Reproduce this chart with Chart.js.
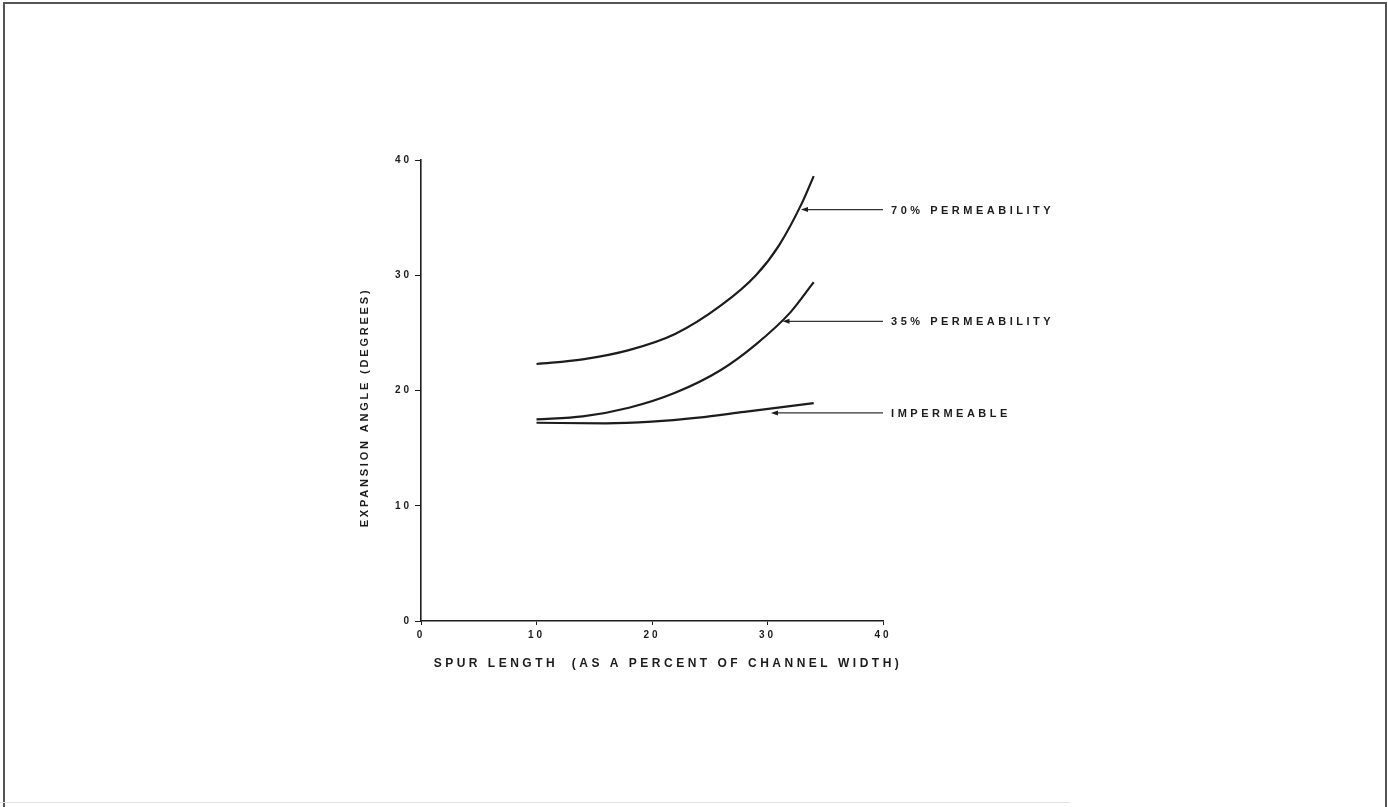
<!DOCTYPE html>
<html>
<head>
<meta charset="utf-8">
<title>Expansion angle vs spur length</title>
<script src="https://cdn.jsdelivr.net/npm/chart.js@4.4.1/dist/chart.umd.min.js"></script>
<style>
  html, body { margin: 0; padding: 0; background: #fff; overflow: hidden; }
  #frame { position: absolute; left: 3px; top: 2px; width: 1380px; height: 820px;
           border-top: 2px solid #555; border-left: 2px solid #555; border-right: 2px solid #555; }
  #foot { position: absolute; left: 0; top: 802px; width: 1070px; height: 1px; background: #e2e2e2; }
  #grafik { position: absolute; left: 0; top: 0; }
</style>
</head>
<body>
<div id="frame"></div>
<div id="foot"></div>
<canvas id="grafik" width="1388" height="807"></canvas>
<script>
// values (x = spur length %, y = expansion angle deg)
var x70 = [10, 14, 18, 22, 26, 29, 31, 33, 34];
var y70 = [22.3, 22.7, 23.5, 24.9, 27.4, 30.0, 32.6, 36.3, 38.6];

var x35 = [10, 14, 18, 22, 26, 29, 32, 34];
var y35 = [17.5, 17.75, 18.5, 19.8, 21.8, 24.0, 26.8, 29.4];

var xImp = [10, 16, 20, 24, 28, 34];
var yImp = [17.2, 17.15, 17.3, 17.65, 18.15, 18.9];

var seriesNames = ["70% PERMEABILITY", "35% PERMEABILITY", "IMPERMEABLE"];
// where each arrow touches its curve, and where the arrow tail / label sit
var arrowX = [32.9, 31.3, 30.3];
var arrowY = [35.7, 26.0, 18.05];
var arrowTailX = 40;
var labelX = 40.7;

var xTicks = [0, 10, 20, 30, 40];
var yTicks = [0, 10, 20, 30, 40];

var xTitle = "SPUR LENGTH  (AS A PERCENT OF CHANNEL WIDTH)";
var yTitle = "EXPANSION ANGLE (DEGREES)";

var ink = "#1c1c1c";
var fontName = "'Liberation Sans', Arial, sans-serif";

function pts(xs, ys) {
    var out = [];
    for (let i = 0; i < xs.length; i++) out.push({ x: xs[i], y: ys[i] });
    return out;
}

function seri(xs, ys) {
    return {
        data: pts(xs, ys),
        borderColor: ink,
        borderWidth: 2.2,
        pointRadius: 0,
        fill: false,
        cubicInterpolationMode: "monotone"
    };
}

var yaziPlugin = {
    id: "yazilar",
    beforeDraw: function (chart) {
        chart.ctx.letterSpacing = "3px";
    },
    afterDraw: function (chart) {
        var ctx = chart.ctx;
        var xs = chart.scales.x, ys = chart.scales.y;
        var area = chart.chartArea;
        ctx.save();
        ctx.fillStyle = ink;
        ctx.strokeStyle = "#333";

        // arrows + labels
        for (let i = 0; i < seriesNames.length; i++) {
            var hx = xs.getPixelForValue(arrowX[i]);
            var hy = ys.getPixelForValue(arrowY[i]);
            var tx = xs.getPixelForValue(arrowTailX);
            ctx.lineWidth = 1.2;
            ctx.beginPath();
            ctx.moveTo(tx, hy);
            ctx.lineTo(hx + 4, hy);
            ctx.stroke();
            ctx.beginPath();
            ctx.moveTo(hx, hy);
            ctx.lineTo(hx + 7, hy - 2.5);
            ctx.lineTo(hx + 7, hy + 2.5);
            ctx.closePath();
            ctx.fill();

            ctx.letterSpacing = "3.5px";
            ctx.font = "bold 11px " + fontName;
            ctx.textAlign = "left";
            ctx.textBaseline = "middle";
            ctx.fillText(seriesNames[i], xs.getPixelForValue(labelX), hy + 1);
        }

        // axis titles
        ctx.letterSpacing = "3.5px";
        ctx.font = "bold 12px " + fontName;
        ctx.textAlign = "center";
        ctx.textBaseline = "middle";
        ctx.fillText(xTitle, (area.left + area.right) / 2 + 16, area.bottom + 43);

        ctx.translate(area.left - 56, (area.top + area.bottom) / 2 + 17);
        ctx.rotate(-Math.PI / 2);
        ctx.letterSpacing = "2.8px";
        ctx.font = "bold 11px " + fontName;
        ctx.fillText(yTitle, 0, 0);
        ctx.restore();
        ctx.letterSpacing = "0px";
    }
};

var chart = new Chart("grafik", {
    type: "line",
    data: {
        datasets: [seri(x70, y70), seri(x35, y35), seri(xImp, yImp)]
    },
    options: {
        responsive: false,
        animation: false,
        layout: { padding: { left: 340, right: 505, top: 160, bottom: 126 } },
        plugins: { legend: { display: false }, tooltip: { enabled: false } },
        scales: {
            x: {
                type: "linear",
                min: xTicks[0],
                max: xTicks[xTicks.length - 1],
                afterBuildTicks: function (s) { s.ticks = xTicks.map(function (v) { return { value: v }; }); },
                afterFit: function (s) { s.height = 60; },
                grid: { drawOnChartArea: false, drawTicks: true, tickLength: 4, color: ink, lineWidth: 1 },
                border: { display: true, color: ink, width: 1.6 },
                ticks: { color: ink, padding: 4, font: { family: fontName, size: 10, weight: "bold" } }
            },
            y: {
                type: "linear",
                min: yTicks[0],
                max: yTicks[yTicks.length - 1],
                afterBuildTicks: function (s) { s.ticks = yTicks.map(function (v) { return { value: v }; }); },
                afterFit: function (s) { s.width = 81; },
                grid: { drawOnChartArea: false, drawTicks: true, tickLength: 6, color: ink, lineWidth: 1 },
                border: { display: true, color: ink, width: 1.6 },
                ticks: { color: ink, padding: 3, font: { family: fontName, size: 10, weight: "bold" } }
            }
        }
    },
    plugins: [yaziPlugin]
});
</script>
</body>
</html>
